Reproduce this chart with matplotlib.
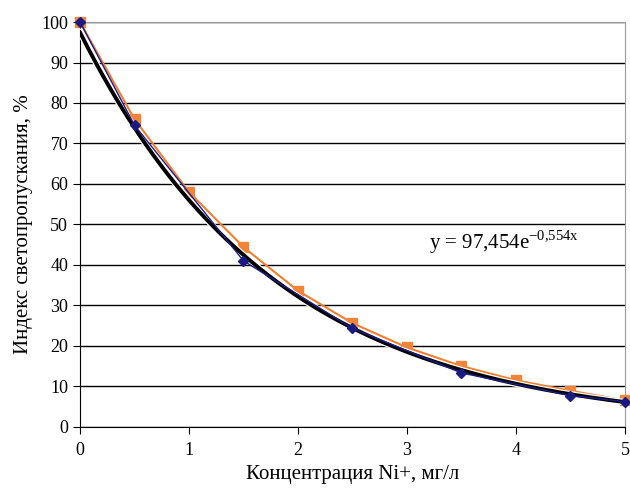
import numpy as np
import matplotlib.pyplot as plt

plt.rcParams['font.family'] = ['Liberation Serif', 'DejaVu Serif']
plt.rcParams['mathtext.fontset'] = 'custom'
plt.rcParams['mathtext.rm'] = 'Liberation Serif'

blue_conc = [0, 0.5, 1.5, 2.5, 3.5, 4.5, 5]
blue_vals = [100, 74.5, 41, 24.3, 13.3, 7.7, 6.2]
orange_conc = [0, 0.5, 1, 1.5, 2, 2.5, 3, 3.5, 4, 4.5, 5]
orange_vals = [100, 76, 58, 44.4, 33.6, 25.6, 19.6, 15, 11.5, 8.9, 6.5]
fit_a = 97.454
fit_b = -0.554

fig = plt.figure(figsize=(6.3, 4.9), dpi=100)
ax = fig.add_axes([0.127, 0.129, 0.865, 0.826])

xs = np.linspace(0, 5, 300)
ax.plot(orange_conc, orange_vals, color='#f07f2f', lw=1.5, marker='s', ms=7,
        markerfacecolor='#f0853a', markeredgecolor='#f0853a', zorder=3, clip_on=False)
ax.plot(xs, fit_a * np.exp(fit_b * xs), color='white', lw=4.5, zorder=3.5)
ax.plot(xs, fit_a * np.exp(fit_b * xs), color='black', lw=2.8, zorder=4)
ax.plot(blue_conc, blue_vals, color='#1c1c8c', lw=1, marker='D', ms=5,
        markerfacecolor='#1a1a80', markeredgecolor='#1a1a80', zorder=5, clip_on=False)

ax.text(3.2, 45.5, r'y = 97,454e$^{\mathregular{-0{,}554x}}$', fontsize=15, va='center')

ax.set_xlim(0, 5)
ax.set_ylim(0, 100)
ax.set_xticks([0, 1, 2, 3, 4, 5])
ax.set_yticks(range(0, 101, 10))
ax.yaxis.grid(True, color='black', lw=1)
ax.set_axisbelow(True)
ax.tick_params(direction='out', length=5, labelsize=13, color='black')
ax.tick_params(axis='x', pad=6)
for s in ['top', 'right']:
    ax.spines[s].set_color('#999999')
ax.set_xlabel('Концентрация Ni+, мг/л', fontsize=15, labelpad=4)
ax.set_ylabel('Индекс светопропускания, %', fontsize=15, labelpad=6)

fig.savefig('out.png', dpi=100)
